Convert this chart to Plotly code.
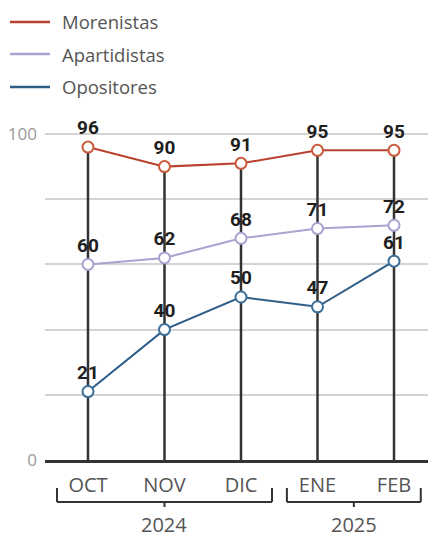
import plotly.graph_objects as go

months = ["OCT", "NOV", "DIC", "ENE", "FEB"]
years = ["2024", "2025"]
year_spans = [(0, 2), (3, 4)]  # month index spans per year
morenistas = [96, 90, 91, 95, 95]
apartidistas = [60, 62, 68, 71, 72]
opositores = [21, 40, 50, 47, 61]
series_names = ["Morenistas", "Apartidistas", "Opositores"]
series_values = [morenistas, apartidistas, opositores]
colors = ["#b9402e", "#a9a3d0", "#2e5d87"]
marker_colors = ["#cc5a3c", "#a9a3d0", "#3a6d97"]

# page body has an 8px margin, so the figure is offset by 8px
OFF = 8
W, H = 436 - OFF, 540 - OFF
ML, MR, MT, MB = 45 - OFF, 0, 120 - OFF, 80
XMIN, XMAX = -0.562, 4.549
YMAX = 104.3

def xpaper(i):
    return (i - XMIN) / (XMAX - XMIN)

def xpaper_px(px):
    return (px - OFF - ML) / (W - ML - MR)

def ypaper_px(px):
    # page pixel from top -> paper y
    return (H - MB - (px - OFF)) / (H - MT - MB)

fig = go.Figure()

# vertical stems from top value to zero
tops = [max(v) for v in zip(*series_values)]
sx, sy = [], []
for m, t in zip(months, tops):
    sx += [m, m, None]
    sy += [0, t, None]
fig.add_trace(go.Scatter(x=sx, y=sy, mode="lines", line=dict(color="#333333", width=2.5),
                         showlegend=False, hoverinfo="skip"))

for name, vals, c, mc in zip(series_names, series_values, colors, marker_colors):
    fig.add_trace(go.Scatter(
        x=months, y=vals, name=name, mode="lines+markers+text",
        line=dict(color=c, width=2),
        marker=dict(size=11, color="white", line=dict(color=mc, width=2)),
        text=[str(v) for v in vals], textposition="top center",
        textfont=dict(family="Roboto", size=19, color="#1e1e1e", weight="bold"),
        cliponaxis=False, showlegend=False,
    ))

shapes = []
annotations = []
line = dict(color="#333333", width=2)
for (a, b), yr in zip(year_spans, years):
    x0 = xpaper(a - 0.405) if a == 0 else xpaper(a - 0.4)
    x1 = xpaper(b + 0.405) if a == 0 else xpaper(b + 0.35)
    yh = ypaper_px(502)
    yt = ypaper_px(488)
    xc = (x0 + x1) / 2
    shapes.append(dict(type="line", xref="paper", yref="paper", x0=x0, x1=x1, y0=yh, y1=yh, line=line))
    shapes.append(dict(type="line", xref="paper", yref="paper", x0=x0, x1=x0, y0=yh, y1=yt, line=line))
    shapes.append(dict(type="line", xref="paper", yref="paper", x0=x1, x1=x1, y0=yh, y1=yt, line=line))
    shapes.append(dict(type="line", xref="paper", yref="paper", x0=xc, x1=xc, y0=yh, y1=ypaper_px(507), line=line))
    annotations.append(dict(text=yr, xref="paper", yref="paper", x=xc, y=ypaper_px(524),
                            showarrow=False, xanchor="center", yanchor="middle",
                            font=dict(family="Open Sans", size=20, color="#555555")))

# manual legend (line swatches + labels)
legend_rows_px = [22, 54, 87]
for name, c, ypx in zip(series_names, colors, legend_rows_px):
    yp = ypaper_px(ypx)
    shapes.append(dict(type="line", xref="paper", yref="paper", x0=xpaper_px(10), x1=xpaper_px(50),
                       y0=yp, y1=yp, line=dict(color=c, width=2.5)))
    annotations.append(dict(text=name, xref="paper", yref="paper", x=xpaper_px(60), y=yp,
                            showarrow=False, xanchor="left", yanchor="middle",
                            font=dict(family="Open Sans", size=18.5, color="#555555")))

fig.update_layout(
    width=W, height=H,
    margin=dict(l=ML, r=MR, t=MT, b=MB, autoexpand=False),
    paper_bgcolor="white", plot_bgcolor="white",
    shapes=shapes, annotations=annotations,
    showlegend=False,
    xaxis=dict(range=[XMIN, XMAX], showgrid=False, showline=True, linecolor="#333333", linewidth=2.5,
               ticks="", tickfont=dict(family="Open Sans", size=20, color="#555555"),
               ticklabelstandoff=5, zeroline=False, fixedrange=True),
    yaxis=dict(range=[0, YMAX], showgrid=True, gridcolor="#d4d4d4", gridwidth=1.5,
               tickvals=[0, 20, 40, 60, 80, 100], ticktext=["0", "", "", "", "", "100"],
               tickfont=dict(family="Open Sans", size=17, color="#999999"),
               showline=False, zeroline=False, ticks="", ticklabelstandoff=7),
)

fig.write_html("out.html")
